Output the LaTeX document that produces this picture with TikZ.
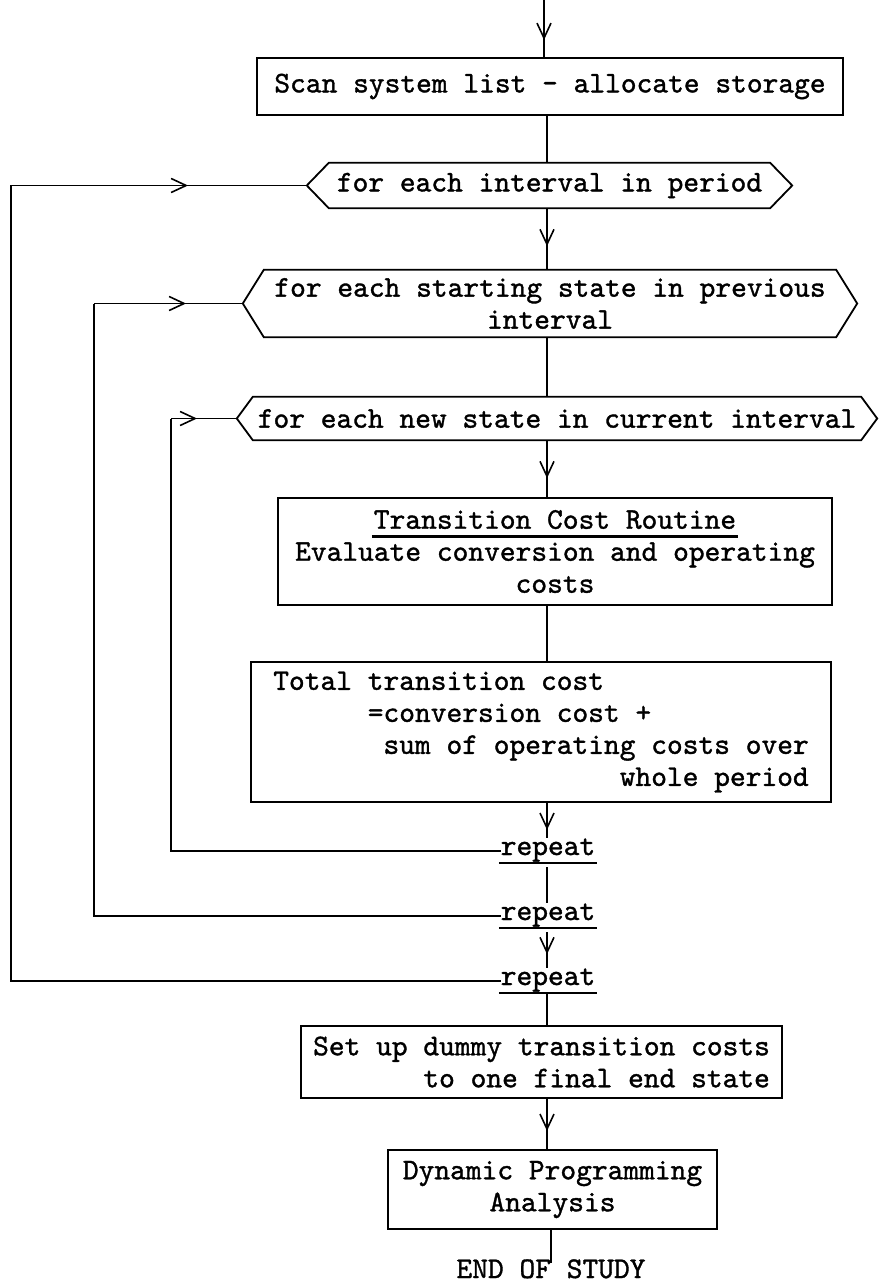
\documentclass[tikz,border=0pt]{standalone}
\usepackage{fontspec}
\setmonofont{lmmono10-regular.otf}[FakeBold=1.2]
\usetikzlibrary{arrows.meta,decorations.markings,calc}

% heavy underline used for headings and loop ends
\newcommand\heavyul[1]{\leavevmode\setbox0\hbox{#1}%
  \rlap{\hspace*{-2pt}\rule[-9pt]{\dimexpr\wd0+4pt\relax}{2.4pt}}\box0}

% pointed (hexagonal) frame round a loop header node; #1 node, #2 point depth
\newcommand\hexframe[2]{%
  \draw[frame] (#1.north west) -- (#1.north east) -- ([xshift=#2]#1.east)
    -- (#1.south east) -- (#1.south west) -- ([xshift=-#2]#1.west) -- cycle;
  \coordinate (#1-lt) at ([xshift=-#2]#1.west);}

\begin{document}
\begin{tikzpicture}[x=1pt,y=-1pt,
  every node/.style={font=\ttfamily\fontsize{30}{32}\selectfont, inner sep=0pt},
  frame/.style={line width=1.8pt, line join=miter},
  flow/.style={line width=1.6pt},
  procbox/.style={draw, frame, align=center},
  loophead/.style={align=center},
  midarrow/.style={postaction={decorate, decoration={markings,
      mark=at position #1 with {\arrow{Straight Barb[length=15pt,width=14pt,line width=1.6pt]}}}}}
]
\useasboundingbox (0,0) rectangle (879,1284);

% guide coordinates: main flow axis and the three loop-back columns
\coordinate (ax) at (547,0);
\coordinate (entry) at (544,0);
\coordinate (l1) at (11,0);
\coordinate (l2) at (94,0);
\coordinate (l3) at (171,0);

% boxes and loop headers
\node[procbox, minimum width=586pt, minimum height=57pt] (scan) at (550,86.5)
  {Scan system list - allocate storage};

\node[loophead, minimum width=441pt, minimum height=45pt] (intv) at (549.5,185.5)
  {for each interval in period};
\hexframe{intv}{22pt}

\node[loophead, minimum width=572pt, minimum height=67pt] (start) at (550,303.5)
  {for each starting state in previous\\interval};
\hexframe{start}{21pt}

\node[loophead, minimum width=608pt, minimum height=43pt] (new) at (557,418.5)
  {for each new state in current interval};
\hexframe{new}{16pt}

\node[procbox, minimum width=554pt, minimum height=107pt] (tcr) at (555,551.5)
  {\heavyul{Transition Cost Routine}\\Evaluate conversion and operating\\costs};

\node[procbox, align=left, minimum width=580pt, minimum height=140pt] (total) at (541,732)
  {Total transition cost\\
   \hspace*{3.15em}=conversion cost +\\
   \hspace*{3.675em}sum of operating costs over\\
   \hspace*{11.55em}whole period};

\node[anchor=base] (r1) at (548,855) {\heavyul{repeat}};
\node[anchor=base] (r2) at (548,920) {\heavyul{repeat}};
\node[anchor=base] (r3) at (548,985) {\heavyul{repeat}};

\node[procbox, align=left, minimum width=481pt, minimum height=72pt] (dummy) at (541.5,1062)
  {Set up dummy transition costs\\\hspace*{3.675em}to one final end state};

\node[procbox, minimum width=329pt, minimum height=79pt] (dp) at (552.5,1189.5)
  {Dynamic Programming\\Analysis};

\node[anchor=base] (end) at (551,1278) {END OF STUDY};

% main flow
\draw[flow, midarrow=40pt] (entry) -- (scan.north -| entry);
\draw[flow] (scan.south -| ax) -- (intv.north -| ax);
\draw[flow, midarrow=38pt] (intv.south -| ax) -- (start.north -| ax);
\draw[flow] (start.south -| ax) -- (new.north -| ax);
\draw[flow, midarrow=38pt] (new.south -| ax) -- (tcr.north -| ax);
\draw[flow] (tcr.south -| ax) -- (total.north -| ax);
\draw[flow, midarrow=27pt] (total.south -| ax) -- (r1.north -| ax);
\draw[flow] ([yshift=-3pt]r1.south -| ax) -- (r2.north -| ax);
\draw[flow, midarrow=22pt] ([yshift=-3pt]r2.south -| ax) -- (r3.north -| ax);
\draw[flow] (r3.south -| ax) -- (dummy.north -| ax);
\draw[flow, midarrow=32pt] (dummy.south -| ax) -- (dp.north -| ax);
\draw[flow] (dp.south -| end) -- ([yshift=-4pt]end.north);

% loop-back connectors
\draw[flow] (r1.west) -- (r1.west -| l3) -- (new-lt -| l3);
\draw[flow, midarrow=26pt] (new-lt -| l3) -- (new-lt);
\draw[flow] (r2.west) -- (r2.west -| l2) -- (start-lt -| l2);
\draw[flow, midarrow=92pt] (start-lt -| l2) -- (start-lt);
\draw[flow] (r3.west) -- (r3.west -| l1) -- (intv-lt -| l1);
\draw[flow, midarrow=177pt] (intv-lt -| l1) -- (intv-lt);
\end{tikzpicture}
\end{document}
